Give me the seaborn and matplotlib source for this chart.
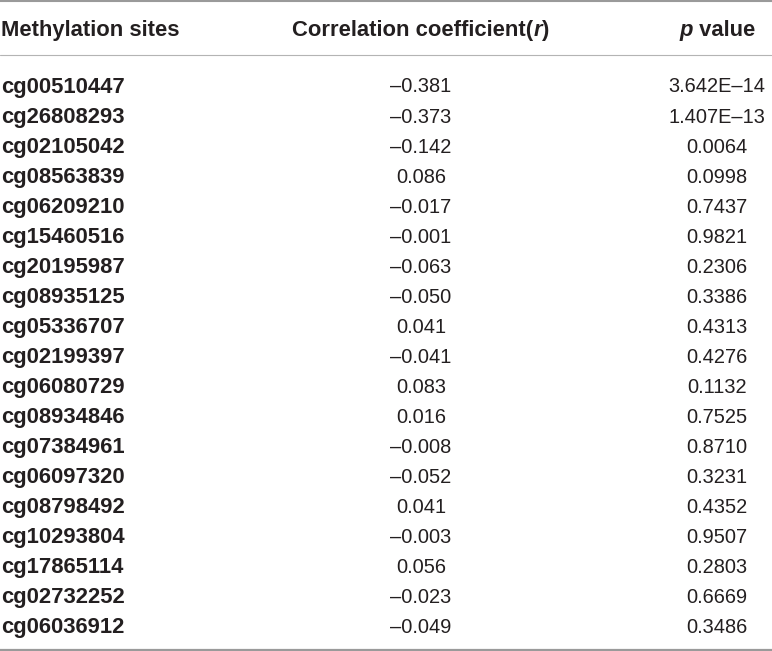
import matplotlib
matplotlib.use("Agg")
import matplotlib.pyplot as plt
import seaborn as sns

# Table content
sites = [
    "cg00510447", "cg26808293", "cg02105042", "cg08563839", "cg06209210",
    "cg15460516", "cg20195987", "cg08935125", "cg05336707", "cg02199397",
    "cg06080729", "cg08934846", "cg07384961", "cg06097320", "cg08798492",
    "cg10293804", "cg17865114", "cg02732252", "cg06036912",
]
r_values = [
    -0.381, -0.373, -0.142, 0.086, -0.017, -0.001, -0.063, -0.050, 0.041,
    -0.041, 0.083, 0.016, -0.008, -0.052, 0.041, -0.003, 0.056, -0.023, -0.049,
]
p_values = [
    3.642e-14, 1.407e-13, 0.0064, 0.0998, 0.7437, 0.9821, 0.2306, 0.3386,
    0.4313, 0.4276, 0.1132, 0.7525, 0.8710, 0.3231, 0.4352, 0.9507, 0.2803,
    0.6669, 0.3486,
]

DASH = "\u2013"


def fmt_r(v):
    return f"{v:.3f}".replace("-", DASH)


def fmt_p(v):
    if v < 1e-3:
        return f"{v:.3E}".replace("-", DASH)
    return f"{v:.4f}"


def rich_text(ax, fig, x, y, parts, size, color):
    """Draw bold pieces (some italic) side by side, centred on x."""
    renderer = fig.canvas.get_renderer()
    texts = []
    for s, italic in parts:
        t = ax.text(0, y, s, fontsize=size, fontweight="bold",
                    fontstyle="italic" if italic else "normal",
                    ha="left", va="baseline", color=color)
        texts.append(t)
    inv = ax.transData.inverted()
    widths = []
    for t in texts:
        bb = t.get_window_extent(renderer)
        x0 = inv.transform((bb.x0, bb.y0))[0]
        x1 = inv.transform((bb.x1, bb.y0))[0]
        widths.append(x1 - x0)
    cur = x - sum(widths) / 2
    for t, w in zip(texts, widths):
        t.set_x(cur)
        cur += w


def main():
    sns.set_theme(style="white")
    plt.rcParams["font.family"] = ["Liberation Sans", "DejaVu Sans"]

    W, H = 772, 651
    fig = plt.figure(figsize=(W / 100, H / 100), dpi=100)
    ax = fig.add_axes([0, 0, 1, 1])
    ax.set_xlim(0, W)
    ax.set_ylim(H, 0)
    ax.axis("off")

    ink = "#231f20"
    head_size = 15.8
    body_size = 14.4

    # column anchors
    x_site = 1
    x_r = 421
    x_p = 717
    y_head = 36
    y_first = 92.5
    step = 30.03

    # rules
    ax.axhline(1, color="#9a9a9a", lw=1.5)
    ax.axhline(54.5, color="#b4b4b4", lw=0.8)
    ax.axhline(649.8, color="#9a9a9a", lw=1.6)

    # header
    ax.text(x_site, y_head, "Methylation sites", fontsize=head_size,
            fontweight="bold", ha="left", va="baseline", color=ink)
    rich_text(ax, fig, x_r, y_head,
              [("Correlation coefficient(", False), ("r", True), (")", False)],
              head_size, ink)
    rich_text(ax, fig, x_p, y_head, [("p", True), (" value", False)],
              head_size, ink)

    # body
    for i, (site, r, p) in enumerate(zip(sites, r_values, p_values)):
        y = y_first + i * step
        ax.text(x_site, y, site, fontsize=head_size, fontweight="bold",
                ha="left", va="baseline", color=ink)
        ax.text(x_r, y, fmt_r(r), fontsize=body_size, ha="center",
                va="baseline", color=ink)
        ax.text(x_p, y, fmt_p(p), fontsize=body_size, ha="center",
                va="baseline", color=ink)

    fig.savefig("out.png", dpi=100)


if __name__ == "__main__":
    main()
